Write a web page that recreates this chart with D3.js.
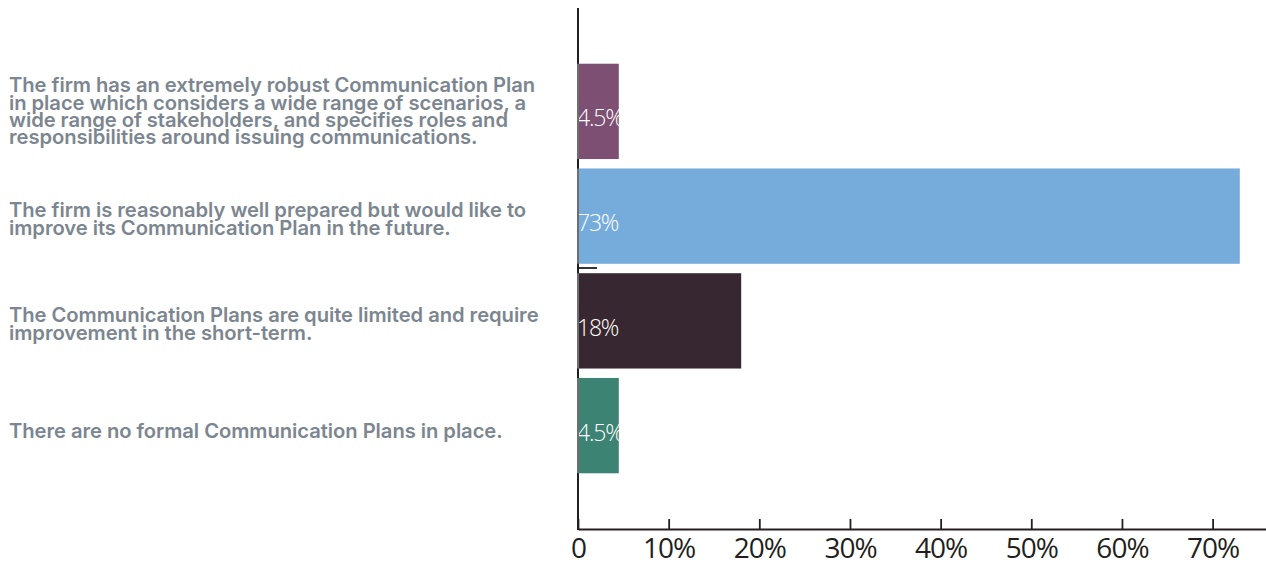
<!DOCTYPE html>
<html>
<head>
<meta charset="utf-8">
<script src="https://cdn.jsdelivr.net/npm/d3@7"></script>
<style>
  html, body { margin: 0; padding: 0; background: #ffffff; }
  svg { display: block; }
</style>
</head>
<body>
<svg id="chart" width="1266" height="568"></svg>
<script>
// Survey responses: state of the firm's Communication Plan
const categories = [
  ["The firm has an extremely robust Communication Plan",
   "in place which considers a wide range of scenarios, a",
   "wide range of stakeholders, and specifies roles and",
   "responsibilities around issuing communications."],
  ["The firm is reasonably well prepared but would like to",
   "improve its Communication Plan in the future."],
  ["The Communication Plans are quite limited and require",
   "improvement in the short-term."],
  ["There are no formal Communication Plans in place."]
];
const values = [4.5, 73, 18, 4.5];
const valueLabels = ["4.5%", "73%", "18%", "4.5%"];
const barColors = ["#7d5073", "#76acdb", "#372730", "#3c8373"];
const xTicks = [0, 10, 20, 30, 40, 50, 60, 70];
const xTickLabels = ["0", "10%", "20%", "30%", "40%", "50%", "60%", "70%"];

const svg = d3.select("#chart");
const axisColor = "#231f20";

const x = d3.scaleLinear().domain([0, 76]).range([578, 1267]);
const y = d3.scaleBand()
  .domain(d3.range(categories.length))
  .range([59, 478])
  .paddingInner(0.09)
  .paddingOuter(0.045);

// Bars
svg.append("g").selectAll("rect")
  .data(values)
  .join("rect")
  .attr("x", x(0))
  .attr("y", (d, i) => y(i))
  .attr("width", d => x(d) - x(0))
  .attr("height", y.bandwidth())
  .attr("fill", (d, i) => barColors[i]);

// Value labels inside bars
svg.append("g").selectAll("text")
  .data(valueLabels)
  .join("text")
  .attr("x", x(0) - 1)
  .attr("y", (d, i) => y(i) + y.bandwidth() / 2 + 15)
  .attr("fill", "#ffffff")
  .style("font-family", "'Open Sans', 'Noto Sans', sans-serif")
  .style("font-size", "23px")
  .style("font-weight", 300)
  .style("letter-spacing", "-1.2px")
  .text(d => d);

// Category labels
const lineH = 17.4;
const labels = svg.append("g");
categories.forEach((lines, i) => {
  const cy = y(i) + y.bandwidth() / 2;
  const first = cy - (lines.length - 1) / 2 * lineH + 7 + (i > 0 ? 3 : 0) + (i === 3 ? 2 : 0);
  const t = labels.append("text")
    .attr("fill", "#7c8690")
    .style("font-family", "Inter, Roboto, sans-serif")
    .style("font-size", "20.2px")
    .style("font-weight", 600)
    .style("letter-spacing", "-0.05px");
  lines.forEach((ln, j) => {
    t.append("tspan").attr("x", 9).attr("y", first + j * lineH).text(ln);
  });
});

// X axis with inward ticks
const xAxis = d3.axisBottom(x)
  .tickValues(xTicks)
  .tickSize(-10)
  .tickSizeOuter(0)
  .tickFormat((d, i) => xTickLabels[i]);
const gx = svg.append("g")
  .attr("transform", "translate(0,529)")
  .call(xAxis);
gx.select(".domain").attr("stroke", axisColor).attr("stroke-width", 2.2);
gx.selectAll(".tick line").attr("stroke", axisColor).attr("stroke-width", 1.8);
gx.selectAll(".tick text")
  .attr("y", 7)
  .attr("dy", "0.8em")
  .attr("fill", axisColor)
  .style("font-family", "'Open Sans', 'Noto Sans', sans-serif")
  .style("font-size", "28px")
  .style("font-weight", 400)
  .style("letter-spacing", "-1px");

// Y axis line with a single mid tick
svg.append("line")
  .attr("x1", x(0)).attr("x2", x(0))
  .attr("y1", 8).attr("y2", 530)
  .attr("stroke", axisColor).attr("stroke-width", 2);
svg.append("line")
  .attr("x1", x(0)).attr("x2", x(0) + 19)
  .attr("y1", 268).attr("y2", 268)
  .attr("stroke", axisColor).attr("stroke-width", 1.8);

// Thin grey edge where bars meet the axis
svg.append("g").selectAll("line")
  .data(values)
  .join("line")
  .attr("x1", x(0)).attr("x2", x(0))
  .attr("y1", (d, i) => y(i)).attr("y2", (d, i) => y(i) + y.bandwidth())
  .attr("stroke", "#8a8a8a").attr("stroke-width", 1.5);
</script>
</body>
</html>
